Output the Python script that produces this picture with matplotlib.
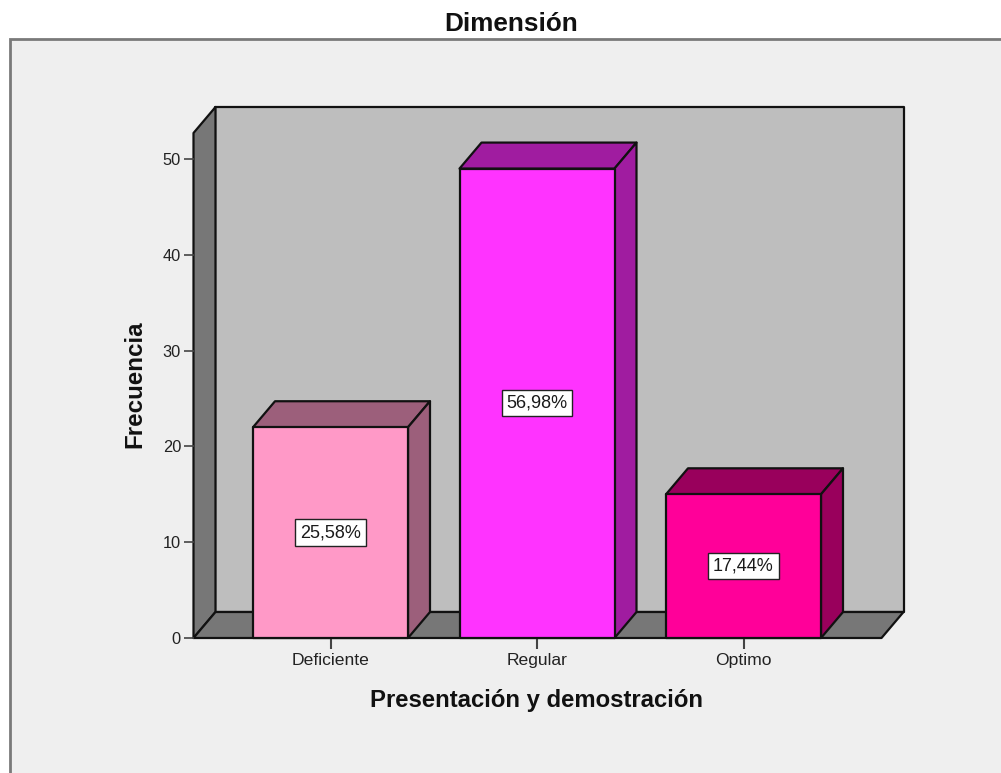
import matplotlib
matplotlib.use('Agg')
import matplotlib.pyplot as plt
from matplotlib.patches import Polygon, Rectangle

categorias = ['Deficiente', 'Regular', 'Optimo']
frecuencias = [22, 49, 15]
porcentajes = ['25,58%', '56,98%', '17,44%']
colores = ['#FF99C7', '#FF33FF', '#FF0099']
colores_lado = ['#9C5F7B', '#A01CA0', '#99005C']
yticks = [0, 10, 20, 30, 40, 50]

plt.rcParams['font.family'] = ['Liberation Sans', 'DejaVu Sans']

W, H = 1001, 773
fig = plt.figure(figsize=(W / 100, H / 100), dpi=100, facecolor='white')

# panel gris de fondo
fig.add_artist(Rectangle((9.5 / W, -0.01), 1.1, 1 - 38.5 / H + 0.01, transform=fig.transFigure,
                         facecolor='#EFEFEF', edgecolor='#7A7A7A', linewidth=2, zorder=-1))

# ejes: borde frontal de la caja 3D
x0, x1, y_base, y_top = 193.5, 881.5, 638, 133
ax = fig.add_axes([x0 / W, 1 - y_base / H, (x1 - x0) / W, (y_base - y_top) / H])
ax.patch.set_visible(False)
paso = 206.5
centro = 330.5
ax.set_xlim((x0 - centro) / paso, (x1 - centro) / paso)
ax.set_ylim(0, (y_base - y_top) / 9.58)
dx = 22 / paso
dy = 26 / 9.58
ancho = 155 / paso
xmin, xmax = ax.get_xlim()
ymax = ax.get_ylim()[1]


def poly(pts, color, z):
    ax.add_patch(Polygon(pts, closed=True, facecolor=color, edgecolor='#111111',
                         linewidth=1.6, joinstyle='round', clip_on=False, zorder=z))


# paredes y suelo
poly([(xmin + dx, dy), (xmax + dx, dy), (xmax + dx, ymax + dy), (xmin + dx, ymax + dy)], '#BEBEBE', 1)
poly([(xmin, 0), (xmin + dx, dy), (xmin + dx, ymax + dy), (xmin, ymax)], '#777777', 1.5)
poly([(xmin, 0), (xmax, 0), (xmax + dx, dy), (xmin + dx, dy)], '#777777', 1.5)

# barras con cara frontal, superior y lateral
for i, v in enumerate(frecuencias):
    a, b = i - ancho / 2, i + ancho / 2
    poly([(a, v), (b, v), (b + dx, v + dy), (a + dx, v + dy)], colores_lado[i], 3)
    poly([(b, 0), (b + dx, dy), (b + dx, v + dy), (b, v)], colores_lado[i], 3)
    poly([(a, 0), (b, 0), (b, v), (a, v)], colores[i], 4)
    ax.text(i, v / 2, porcentajes[i], ha='center', va='center', fontsize=13, color='#1A1A1A', zorder=5,
            bbox=dict(boxstyle='square,pad=0.26', facecolor='white', edgecolor='#222222', linewidth=1))

for s in ['top', 'right', 'bottom', 'left']:
    ax.spines[s].set_visible(False)
ax.set_xticks(range(len(categorias)))
ax.set_xticklabels(categorias)
ax.set_yticks(yticks)
ax.tick_params(axis='x', length=8, width=1.5, color='#444444', labelsize=12.6, labelcolor='#222222', pad=3)
ax.tick_params(axis='y', length=7.5, width=1.2, color='#444444', labelsize=11.8, labelcolor='#222222', pad=1.5)

fig.text(511.5 / W, 1 - 24 / H, 'Dimensión', ha='center', va='center', fontsize=18.8, fontweight='bold', color='#111111')
fig.text(536 / W, 1 - 700 / H, 'Presentación y demostración', ha='center', va='center', fontsize=17.2,
         fontweight='bold', color='#111111')
fig.text(135 / W, 1 - 384 / H, 'Frecuencia', rotation=90, ha='center', va='center', fontsize=17.4,
         fontweight='bold', color='#111111')

fig.savefig('out.png', dpi=100, facecolor='white')
